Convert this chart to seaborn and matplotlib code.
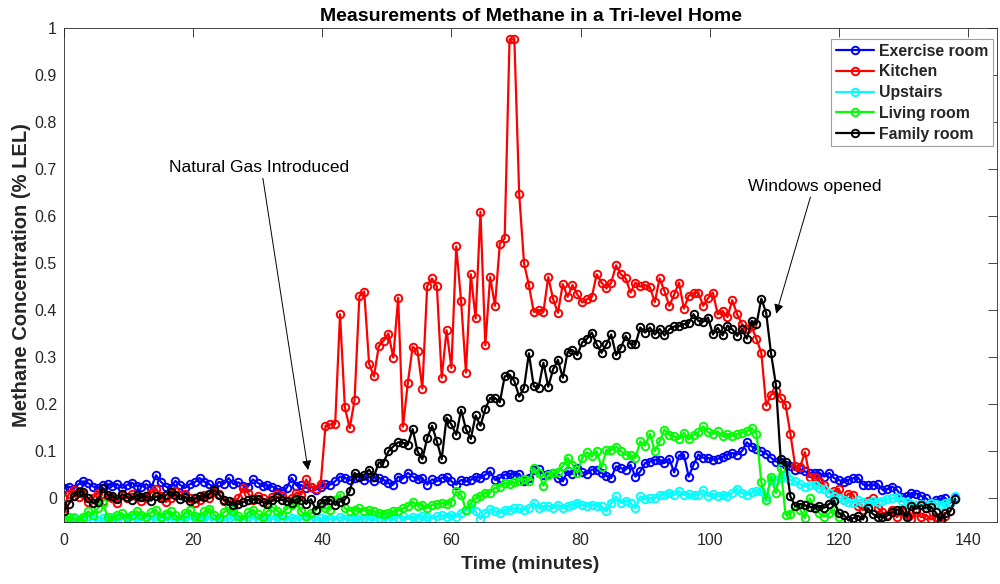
import numpy as np
import pandas as pd
import matplotlib
matplotlib.use("Agg")
import matplotlib.pyplot as plt
import seaborn as sns

# ---------------- data ----------------
DT = 0.75  # minutes between samples

exercise_room = [
    0.022, 0.025, 0.020, 0.030, 0.036, 0.032, 0.025, 0.022, 0.028, 0.030,
    0.026, 0.030, 0.022, 0.028, 0.033, 0.027, 0.025, 0.030, 0.022, 0.049,
    0.035, 0.025, 0.022, 0.037, 0.028, 0.022, 0.030, 0.034, 0.043, 0.035,
    0.030, 0.022, 0.035, 0.030, 0.043, 0.030, 0.034, 0.027, 0.025, 0.040,
    0.033, 0.026, 0.028, 0.025, 0.020, 0.016, 0.022, 0.043, 0.027, 0.028,
    0.022, 0.025, 0.018, 0.025, 0.030, 0.029, 0.036, 0.046, 0.044, 0.038,
    0.043, 0.046, 0.039, 0.046, 0.036, 0.043, 0.039, 0.032, 0.029, 0.046,
    0.042, 0.054, 0.046, 0.040, 0.043, 0.029, 0.040, 0.036, 0.043, 0.046,
    0.036, 0.029, 0.039, 0.036, 0.039, 0.046, 0.043, 0.050, 0.057, 0.039,
    0.043, 0.050, 0.052, 0.050, 0.052, 0.036, 0.043, 0.061, 0.062, 0.050,
    0.052, 0.053, 0.043, 0.036, 0.058, 0.052,
    0.064, 0.055, 0.052, 0.061, 0.061, 0.054, 0.048, 0.043, 0.068, 0.064,
    0.061, 0.071, 0.046, 0.057, 0.075, 0.078, 0.082, 0.082, 0.075, 0.084,
    0.055, 0.091, 0.093, 0.046, 0.071, 0.093, 0.086, 0.086, 0.082, 0.084,
    0.088, 0.093, 0.096, 0.093, 0.100, 0.119, 0.110, 0.105, 0.100, 0.095,
    0.086, 0.078, 0.078, 0.071, 0.068, 0.061, 0.062, 0.057, 0.054, 0.053,
    0.054, 0.046, 0.054, 0.043, 0.039, 0.034, 0.039, 0.043, 0.044, 0.029,
    0.028, 0.028, 0.031, 0.018, 0.019, 0.025, 0.018, 0.003, 0.004, 0.011,
    0.010, 0.005, 0.000, -0.009, -0.003, -0.002, 0.000, -0.010, 0.000,
]

kitchen = [
    -0.020, 0.010, 0.018, 0.002, 0.010, -0.008, 0.000, 0.012, -0.005, 0.005,
    0.000, -0.010, 0.006, 0.000, 0.010, 0.002, -0.005, 0.000, 0.012, 0.020,
    0.005, -0.008, 0.000, 0.015, 0.007, 0.010, 0.000, -0.010, -0.004, 0.006,
    0.000, 0.014, 0.010, -0.005, -0.014, -0.008, 0.000, 0.022, 0.011, -0.004,
    0.005, 0.000, -0.010, 0.002, 0.010, 0.004, -0.006, 0.000, 0.012, 0.008,
    0.040, 0.025, 0.020, 0.030,
    0.154, 0.157, 0.158, 0.391, 0.193, 0.149, 0.208, 0.430, 0.439, 0.286,
    0.259, 0.323, 0.335, 0.350, 0.299, 0.426, 0.152, 0.245, 0.322, 0.313,
    0.233, 0.451, 0.467, 0.450, 0.256, 0.357, 0.277, 0.535, 0.419, 0.267,
    0.476, 0.382, 0.609, 0.325, 0.470, 0.409, 0.541, 0.552, 0.975, 0.975,
    0.646, 0.499, 0.453, 0.396, 0.400, 0.396, 0.470, 0.423, 0.394, 0.455,
    0.428, 0.453, 0.433, 0.416, 0.423, 0.428, 0.476, 0.458, 0.446, 0.458,
    0.495, 0.476, 0.467, 0.437, 0.458, 0.450, 0.453, 0.448, 0.417, 0.467,
    0.440, 0.409, 0.433, 0.458, 0.403, 0.430, 0.436, 0.437, 0.409, 0.425,
    0.437, 0.391, 0.398, 0.385, 0.421, 0.391, 0.370, 0.360, 0.365, 0.338,
    0.309, 0.197, 0.220, 0.227, 0.213, 0.199, 0.137, 0.068, 0.066, 0.098,
    0.046, 0.046, 0.036, 0.029, 0.011, 0.015, 0.020, -0.003, 0.010, 0.007,
    -0.017, -0.025, -0.005, 0.000, -0.020, -0.030, -0.035, -0.025, -0.040, -0.030,
    -0.035, -0.045, -0.030, -0.040, -0.035, -0.045, -0.040, -0.040, -0.038,
]

upstairs = [
    -0.042, -0.045, -0.040, -0.046, -0.043, -0.038, -0.045, -0.047, -0.041, -0.044,
    -0.040, -0.046, -0.043, -0.039, -0.045, -0.042, -0.047, -0.040, -0.044, -0.046,
    -0.041, -0.038, -0.045, -0.043, -0.047, -0.040, -0.044, -0.042, -0.046, -0.039,
    -0.043, -0.045, -0.041, -0.047, -0.042, -0.038, -0.044, -0.046, -0.040, -0.043,
    -0.045, -0.041, -0.047, -0.043, -0.039, -0.044, -0.046, -0.041, -0.043, -0.045,
    -0.040, -0.044, -0.047, -0.042, -0.045, -0.043, -0.046, -0.040, -0.044, -0.047,
    -0.043, -0.045, -0.041, -0.044, -0.046, -0.042, -0.040, -0.045, -0.043, -0.041,
    -0.038, -0.044, -0.040, -0.042, -0.037, -0.040, -0.043, -0.038, -0.036, -0.040,
    -0.035,
    -0.039, -0.032, -0.024, -0.021, -0.028, -0.044, -0.032, -0.023, -0.028, -0.032,
    -0.024, -0.024, -0.021, -0.021, -0.024, -0.021, -0.010, -0.021, -0.017, -0.016,
    -0.021, -0.014, -0.021, -0.017, -0.014, -0.009, -0.014, -0.017, -0.014, -0.016,
    -0.017, -0.028, -0.010, 0.004, -0.010, -0.005, -0.010, -0.021, 0.004, -0.002,
    0.000, 0.000, 0.007, 0.007, 0.012, 0.007, 0.015, 0.007, 0.010, 0.006,
    0.007, 0.017, 0.005, 0.010, 0.005, 0.007, 0.005, 0.011, 0.020, 0.011,
    0.007, 0.013, 0.015, 0.015, 0.002, 0.039, 0.039, 0.043, 0.050, 0.039,
    0.036, 0.031, 0.025, 0.029, 0.029, 0.022, 0.020, 0.011, 0.004, 0.000,
    -0.003, -0.007, -0.009, -0.003, -0.007, -0.009, -0.005, -0.007, -0.005, -0.002,
    0.000, 0.003, -0.005, -0.007, -0.012, -0.014, -0.012, -0.014, -0.010, -0.012,
    -0.014, -0.010, -0.007, 0.005,
]

living_room = [
    -0.042, -0.040, -0.042, -0.049, -0.039, -0.028, -0.035, -0.021, -0.010, -0.039,
    -0.046, -0.035, -0.032, -0.042, -0.035, -0.028, -0.035, -0.039, -0.030, -0.024,
    -0.040, -0.033, -0.028, -0.036, -0.045, -0.031, -0.025, -0.038, -0.040, -0.028,
    -0.022, -0.035, -0.042, -0.030, -0.021, -0.026, -0.038, -0.044, -0.030, -0.024,
    -0.033, -0.040, -0.028, -0.018, -0.026, -0.035, -0.022, -0.014,
    -0.007, -0.028, -0.037, -0.032, -0.024, -0.014, -0.021, -0.024, -0.003, 0.007,
    -0.021, -0.026, -0.024, -0.021, -0.026, -0.024, -0.028, -0.032, -0.033, -0.032,
    -0.028, -0.026, -0.021, -0.017, -0.007, -0.016, -0.014, -0.021, -0.014, -0.012,
    -0.010, -0.012, -0.007, 0.015, 0.007, -0.024, -0.010, 0.000, 0.005, 0.012,
    0.012, 0.022, 0.025, 0.032, 0.031, 0.034, 0.036, 0.041, 0.036, 0.064,
    0.054, 0.027, 0.050, 0.054, 0.055, 0.068, 0.086, 0.071, 0.054, 0.086,
    0.098, 0.089, 0.100, 0.066, 0.103, 0.103, 0.110, 0.100, 0.093, 0.091,
    0.086, 0.121, 0.112, 0.137, 0.100, 0.121, 0.146, 0.135, 0.132, 0.126,
    0.139, 0.125, 0.135, 0.140, 0.153, 0.140, 0.137, 0.142, 0.132, 0.137,
    0.133, 0.137, 0.139, 0.142, 0.150, 0.137, 0.034, -0.003, 0.046, 0.011,
    0.064, -0.035, -0.033, -0.017, -0.024, -0.042, 0.000, -0.021, -0.032, -0.039,
    -0.032, -0.024, -0.039,
]

family_room = [
    -0.028, -0.012, 0.004, 0.014, 0.013, 0.000, -0.010, -0.008, 0.022, 0.007,
    0.005, -0.002, 0.009, 0.003, -0.003, 0.007, 0.002, 0.005, -0.005, 0.004,
    0.000, 0.006, 0.014, 0.008, -0.002, 0.003, -0.006, 0.000, 0.005, 0.003,
    0.010, 0.018, 0.008, -0.003, -0.006, -0.014, -0.012, -0.008, -0.004, -0.002,
    -0.001, -0.008, -0.012, -0.004, 0.002, -0.003, -0.005, -0.010, -0.002, -0.003,
    -0.012, -0.002, -0.024, -0.010, -0.003, -0.003, -0.014, -0.007, -0.003, 0.015,
    0.054, 0.045, 0.050, 0.061, 0.046, 0.076, 0.076, 0.100, 0.110, 0.119,
    0.118, 0.114, 0.147, 0.100, 0.083, 0.128, 0.154, 0.121, 0.083, 0.171,
    0.157, 0.135, 0.188, 0.147, 0.126, 0.176, 0.154, 0.190, 0.213, 0.213,
    0.204, 0.259, 0.263, 0.249, 0.216, 0.235, 0.308,
    0.238, 0.235, 0.288, 0.237, 0.274, 0.294, 0.256, 0.311, 0.315, 0.304,
    0.331, 0.339, 0.352, 0.327, 0.309, 0.327, 0.348, 0.304, 0.320, 0.345,
    0.327, 0.327, 0.363, 0.352, 0.363, 0.348, 0.360, 0.346, 0.359, 0.365,
    0.366, 0.370, 0.372, 0.391, 0.377, 0.375, 0.384, 0.348, 0.362, 0.346,
    0.367, 0.359, 0.345, 0.359, 0.339, 0.377, 0.370, 0.424,
    0.394, 0.308, 0.242, 0.083, 0.078, 0.004,
    -0.017, -0.012, -0.015, -0.018, -0.021, -0.016, -0.020, -0.012, -0.005, -0.032,
    -0.035, -0.047, -0.042, -0.037, -0.045, -0.021, -0.033, -0.040, -0.040, -0.037,
    -0.030, -0.024, -0.024, -0.040, -0.016, -0.022, -0.015, -0.020, -0.018, -0.030,
    -0.047, -0.032, -0.028, -0.002,
]

series_names = ["Exercise room", "Kitchen", "Upstairs", "Living room", "Family room"]
series_values = [exercise_room, kitchen, upstairs, living_room, family_room]
series_colors = ["#0000FF", "#FF0000", "#00FFFF", "#00FF00", "#000000"]

x_ticks = [0, 20, 40, 60, 80, 100, 120, 140]
y_ticks = [0, 0.1, 0.2, 0.3, 0.4, 0.5, 0.6, 0.7, 0.8, 0.9, 1.0]
y_tick_labels = ["0", "0.1", "0.2", "0.3", "0.4", "0.5", "0.6", "0.7", "0.8", "0.9", "1"]

title_text = "Measurements of Methane in a Tri-level Home"
x_label = "Time (minutes)"
y_label = "Methane Concentration (% LEL)"

# annotation anchor points (data coordinates): (text position, arrow tail, arrow tip)
gas_note = ("Natural Gas Introduced", (30.2, 0.702), (30.8, 0.680), (37.8, 0.060))
window_note = ("Windows opened", (116.3, 0.662), (115.6, 0.640), (110.3, 0.392))

# ---------------- build long table ----------------
frames = []
for name, vals in zip(series_names, series_values):
    frames.append(pd.DataFrame({
        "Time": np.arange(len(vals)) * DT,
        "Value": vals,
        "Location": name,
    }))
df = pd.concat(frames, ignore_index=True)

# ---------------- plot ----------------
sns.set_style("white")
plt.rcParams["font.family"] = ["Liberation Sans", "DejaVu Sans"]
axis_color = "#262626"

fig = plt.figure(figsize=(10.0, 5.84), dpi=100)
ax = fig.add_axes([0.064, 0.1065, 0.933, 0.8462])

for name, color in zip(series_names, series_colors):
    sub = df[df["Location"] == name]
    sns.lineplot(data=sub, x="Time", y="Value", ax=ax, color=color,
                 label=name, estimator=None, sort=False,
                 linewidth=1.6, marker="o", markersize=5.4,
                 markerfacecolor="none", markeredgecolor=color,
                 markeredgewidth=1.4)

ax.set_xlim(0, 144.5)
ax.set_ylim(-0.05, 1.0)
ax.set_xticks(x_ticks)
ax.set_xticklabels([str(v) for v in x_ticks])
ax.set_yticks(y_ticks)
ax.set_yticklabels(y_tick_labels)

ax.tick_params(axis="both", which="both", direction="in", length=6.5,
               width=0.6, colors=axis_color, labelsize=11.5,
               top=True, right=True)
ax.tick_params(axis="x", pad=8)
ax.tick_params(axis="y", pad=5)
for lab in ax.get_xticklabels() + ax.get_yticklabels():
    lab.set_color(axis_color)
for sp in ax.spines.values():
    sp.set_visible(True)
    sp.set_color(axis_color)
    sp.set_linewidth(0.6)

ax.set_title(title_text, fontsize=14, fontweight="bold", color="black", pad=5)
ax.set_xlabel(x_label, fontsize=14, fontweight="bold", color=axis_color, labelpad=6)
ax.set_ylabel(y_label, fontsize=14.5, fontweight="bold", color=axis_color, labelpad=3)

leg = ax.legend(loc="upper right", bbox_to_anchor=(0.9957, 0.977),
                borderaxespad=0, frameon=True, fancybox=False,
                framealpha=1, edgecolor="#a0a0a0",
                prop={"weight": "bold", "size": 11.4},
                handlelength=2.4, handletextpad=0.3, labelspacing=0.36,
                borderpad=0.3, numpoints=1)
leg.get_frame().set_linewidth(0.8)

for text, txt_xy, tail_xy, tip_xy in (gas_note, window_note):
    ax.text(txt_xy[0], txt_xy[1], text, fontsize=12.5, ha="center", va="center",
            color="black")
    ax.annotate("", xy=tip_xy, xytext=tail_xy,
                arrowprops=dict(arrowstyle="-|>", color="black", lw=0.7,
                                mutation_scale=14, shrinkA=0, shrinkB=0))

fig.savefig("out.png", dpi=100)
